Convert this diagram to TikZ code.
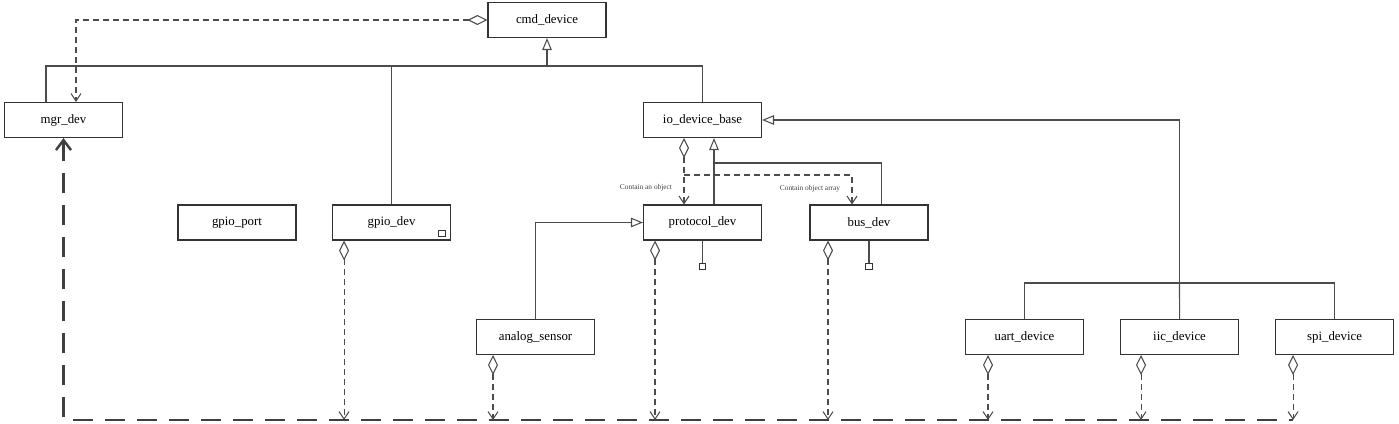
\documentclass[tikz,border=0pt]{standalone}
\usepackage{fontspec}
\setmainfont{Liberation Serif}
\usetikzlibrary{positioning,arrows.meta,calc}

\begin{document}
\begin{tikzpicture}[x=0.02cm, y=-0.02cm,
  cls/.style={draw=black!80, line width=0.6pt, fill=white, minimum width=2.36cm, minimum height=0.7cm, inner sep=0pt, font=\fontsize{7.3}{8}\selectfont},
  ln/.style={draw=black!70, line width=0.6pt},
  inherit/.style={ln, -{Triangle[open, length=0.24cm, width=0.19cm]}},
  agg/.style={ln, dash pattern=on 0.12cm off 0.08cm, {Diamond[open, length=0.4cm, width=0.2cm]}-{Straight Barb[length=0.15cm, width=0.2cm]}},
  dep/.style={ln, dash pattern=on 0.12cm off 0.08cm, -{Straight Barb[length=0.15cm, width=0.2cm]}},
  sqr/.style={draw=black!80, line width=0.5pt, fill=white, minimum size=0.13cm, inner sep=0pt},
  note/.style={font=\fontsize{4.2}{5}\selectfont, text=black!75}]
\useasboundingbox (0,0) rectangle (1399,423);

\node[cls] (cmd) at (547,20) {cmd\_device};
\node[cls] (mgr) at (63.5,120) {mgr\_dev};
\node[cls] (io) at (702.5,120) {io\_device\_base};
\node[cls, line width=1.2pt] (port) at (237,222.5) {gpio\_port};
\node[cls, right=0.7cm of port] (gpio) {gpio\_dev};
\node[cls] (proto) at (702.5,222.5) {protocol\_dev};
\node[cls] (bus) at (869,222.5) {bus\_dev};
\node[cls] (analog) at (535.5,337) {analog\_sensor};
\node[cls] (uart) at (1024.5,337) {uart\_device};
\node[cls, right=0.72cm of uart] (iic) {iic\_device};
\node[cls, right=0.72cm of iic] (spi) {spi\_device};
\node[sqr] (gpio sq) at ([shift={(-0.18cm,0.14cm)}]gpio.south east) {};

% everything derives from cmd_device
\coordinate (bar) at (547,66);
\draw[ln] ([xshift=-0.35cm]mgr.north) |- (bar) -| (io.north);
\draw[ln] (gpio.north) -- (gpio.north |- bar);
\draw[inherit] (bar) -- (cmd.south);
\draw[agg] (cmd.west) -| ([xshift=0.25cm]mgr.north);

% io_device_base
\draw[inherit] ([xshift=0.23cm]proto.north) -- ([xshift=0.23cm]io.south);
\coordinate (branch) at (714,163);
\draw[ln] ([xshift=0.25cm]bus.north) |- (branch);
\draw[agg] ([xshift=-0.37cm]io.south) -- ([xshift=-0.37cm]proto.north);
\coordinate (split) at (684,175);
\draw[dep] (split) -| ([xshift=-0.34cm]bus.north);
\node[note] (note obj) at (646,188) {Contain an object};
\node[note] (note arr) at (810,189) {Contain object array};
\draw[inherit] (analog.north) |- (proto.west);

\draw[ln] (proto.south) -- ++(0,22) node[sqr, anchor=north] (proto sq) {};
\draw[ln] (bus.south) -- ++(0,22) node[sqr, anchor=north] (bus sq) {};

% bus devices
\coordinate (rbar) at (1179.5,283);
\draw[ln] (uart.north) |- (rbar) -| (spi.north);
\draw[ln] (iic.north) -- (rbar);
\draw[inherit] (rbar) |- (io.east);

% registration with mgr_dev
\coordinate (bottom end) at (1293,420);
\draw[draw=black!75, line width=1.4pt, dash pattern=on 0.4cm off 0.24cm, {Straight Barb[length=0.2cm, width=0.3cm]}-] (mgr.south) |- (bottom end);
\foreach \cl/\s in {gpio/-0.95, analog/-0.85, proto/-0.95, bus/-0.82, uart/-0.73, iic/-0.77, spi/-0.83}
  \draw[agg] let \p1=([xshift=\s cm]\cl.south), \p2=(bottom end) in (\p1) -- (\x1,\y2);
\end{tikzpicture}
\end{document}
